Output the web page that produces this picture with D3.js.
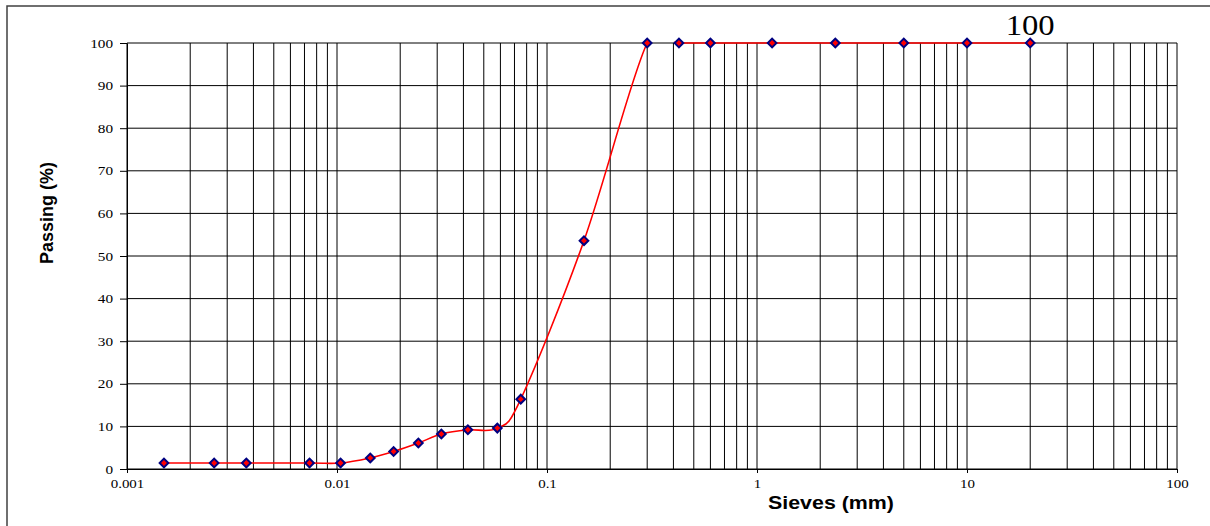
<!DOCTYPE html>
<html lang="en">
<head>
<meta charset="UTF-8">
<title>Grading curve</title>
<script src="https://cdn.jsdelivr.net/npm/d3@7"></script>
<style>
body { margin: 0; background: #fff; }
svg { display: block; }
.tick text { font-family: "Liberation Serif", "Times New Roman", serif; fill: #000; }
.tick line, .domain { stroke: #000; }
.lbl { font-family: "Liberation Sans", Arial, sans-serif; font-weight: bold; fill: #000; }
</style>
</head>
<body>
<svg id="chart" width="1210" height="526"></svg>
<script>
// sieve size (mm) and % passing
var sieves  = [0.0015, 0.0026, 0.0037, 0.0074, 0.0104, 0.0144, 0.0186, 0.0244, 0.0314, 0.042, 0.058, 0.075, 0.15, 0.3, 0.425, 0.6, 1.18, 2.36, 5, 10, 20];
var passing = [1.4, 1.4, 1.4, 1.4, 1.4, 2.6, 4.1, 6.1, 8.2, 9.2, 9.6, 16.4, 53.6, 100, 100, 100, 100, 100, 100, 100, 100];
var xTicks = [0.001, 0.01, 0.1, 1, 10, 100];
var xTickLabels = ["0.001", "0.01", "0.1", "1", "10", "100"];
var yTicks = [0, 10, 20, 30, 40, 50, 60, 70, 80, 90, 100];
var lastLabel = "100";

var svg = d3.select("#chart"),
  pLeft = 127, pRight = 1177, pTop = 43, pBottom = 469;

var x = d3.scaleLog().domain([0.001, 100]).range([pLeft, pRight]),
  y = d3.scaleLinear().domain([0, 100]).range([pBottom, pTop]);

var data = sieves.map(function (s, i) { return { s: s, p: passing[i] }; });

// outer chart frame (only top/left visible in the window)
svg.append("path")
  .attr("d", "M7,530V6H1215")
  .attr("fill", "none")
  .attr("stroke", "#404040")
  .attr("stroke-width", 1.5);

// grid
var grid = svg.append("g");
grid.selectAll(".hg").data(yTicks).enter().append("line")
  .attr("x1", pLeft).attr("x2", pRight)
  .attr("y1", function (d) { return y(d); })
  .attr("y2", function (d) { return y(d); })
  .attr("stroke", "#000").attr("stroke-width", 1);
grid.selectAll(".vg").data(x.ticks()).enter().append("line")
  .attr("y1", pTop).attr("y2", pBottom)
  .attr("x1", function (d) { return x(d); })
  .attr("x2", function (d) { return x(d); })
  .attr("stroke", "#000").attr("stroke-width", 1);

// axes
var ya = svg.append("g")
  .attr("transform", "translate(" + pLeft + ",0)")
  .call(d3.axisLeft(y).tickValues(yTicks).tickSizeInner(7).tickSizeOuter(0).tickPadding(7));
ya.selectAll(".tick text")
  .attr("font-size", 12.5)
  .attr("x", -14 / 1.22)
  .attr("transform", "scale(1.22,1)");

var xa = svg.append("g")
  .attr("transform", "translate(0," + pBottom + ")")
  .call(d3.axisBottom(x).tickValues(xTicks).tickSizeInner(4).tickSizeOuter(0)
    .tickFormat(function (d, i) { return xTickLabels[i]; }));
xa.selectAll(".tick text")
  .attr("font-size", 13)
  .attr("y", 10)
  .attr("transform", "scale(1.15,1)");

// curve, clipped to the plot area like the spreadsheet does
svg.append("clipPath").attr("id", "plotclip")
  .append("rect").attr("x", pLeft).attr("y", pTop - 1.5)
  .attr("width", pRight - pLeft).attr("height", pBottom - pTop + 1.5);

var line = d3.line()
  .x(function (d) { return x(d.s); })
  .y(function (d) { return y(d.p); })
  .curve(d3.curveCardinal.tension(0));

svg.append("path")
  .datum(data)
  .attr("clip-path", "url(#plotclip)")
  .attr("d", line)
  .attr("fill", "none")
  .attr("stroke", "#ff0000")
  .attr("stroke-width", 1.6);

svg.selectAll(".pt").data(data).enter().append("path")
  .attr("d", d3.symbol(d3.symbolSquare, 38))
  .attr("transform", function (d) { return "translate(" + x(d.s) + "," + y(d.p) + ") rotate(45)"; })
  .attr("fill", "#ff0000")
  .attr("stroke", "#000080")
  .attr("stroke-width", 2);

// data label over the last point
var last = data[data.length - 1];
svg.append("text")
  .attr("x", x(last.s)).attr("y", y(last.p) - 8)
  .attr("text-anchor", "middle")
  .attr("font-family", "'Liberation Serif', 'Times New Roman', serif")
  .attr("font-size", 29)
  .attr("textLength", 49).attr("lengthAdjust", "spacingAndGlyphs")
  .text(lastLabel);

// axis titles
svg.append("text").attr("class", "lbl")
  .attr("transform", "translate(53,213) rotate(-90)")
  .attr("text-anchor", "middle")
  .attr("font-size", 18)
  .text("Passing (%)");

svg.append("text").attr("class", "lbl")
  .attr("x", 768).attr("y", 509)
  .attr("font-size", 19)
  .attr("textLength", 126).attr("lengthAdjust", "spacingAndGlyphs")
  .text("Sieves (mm)");
</script>
</body>
</html>
